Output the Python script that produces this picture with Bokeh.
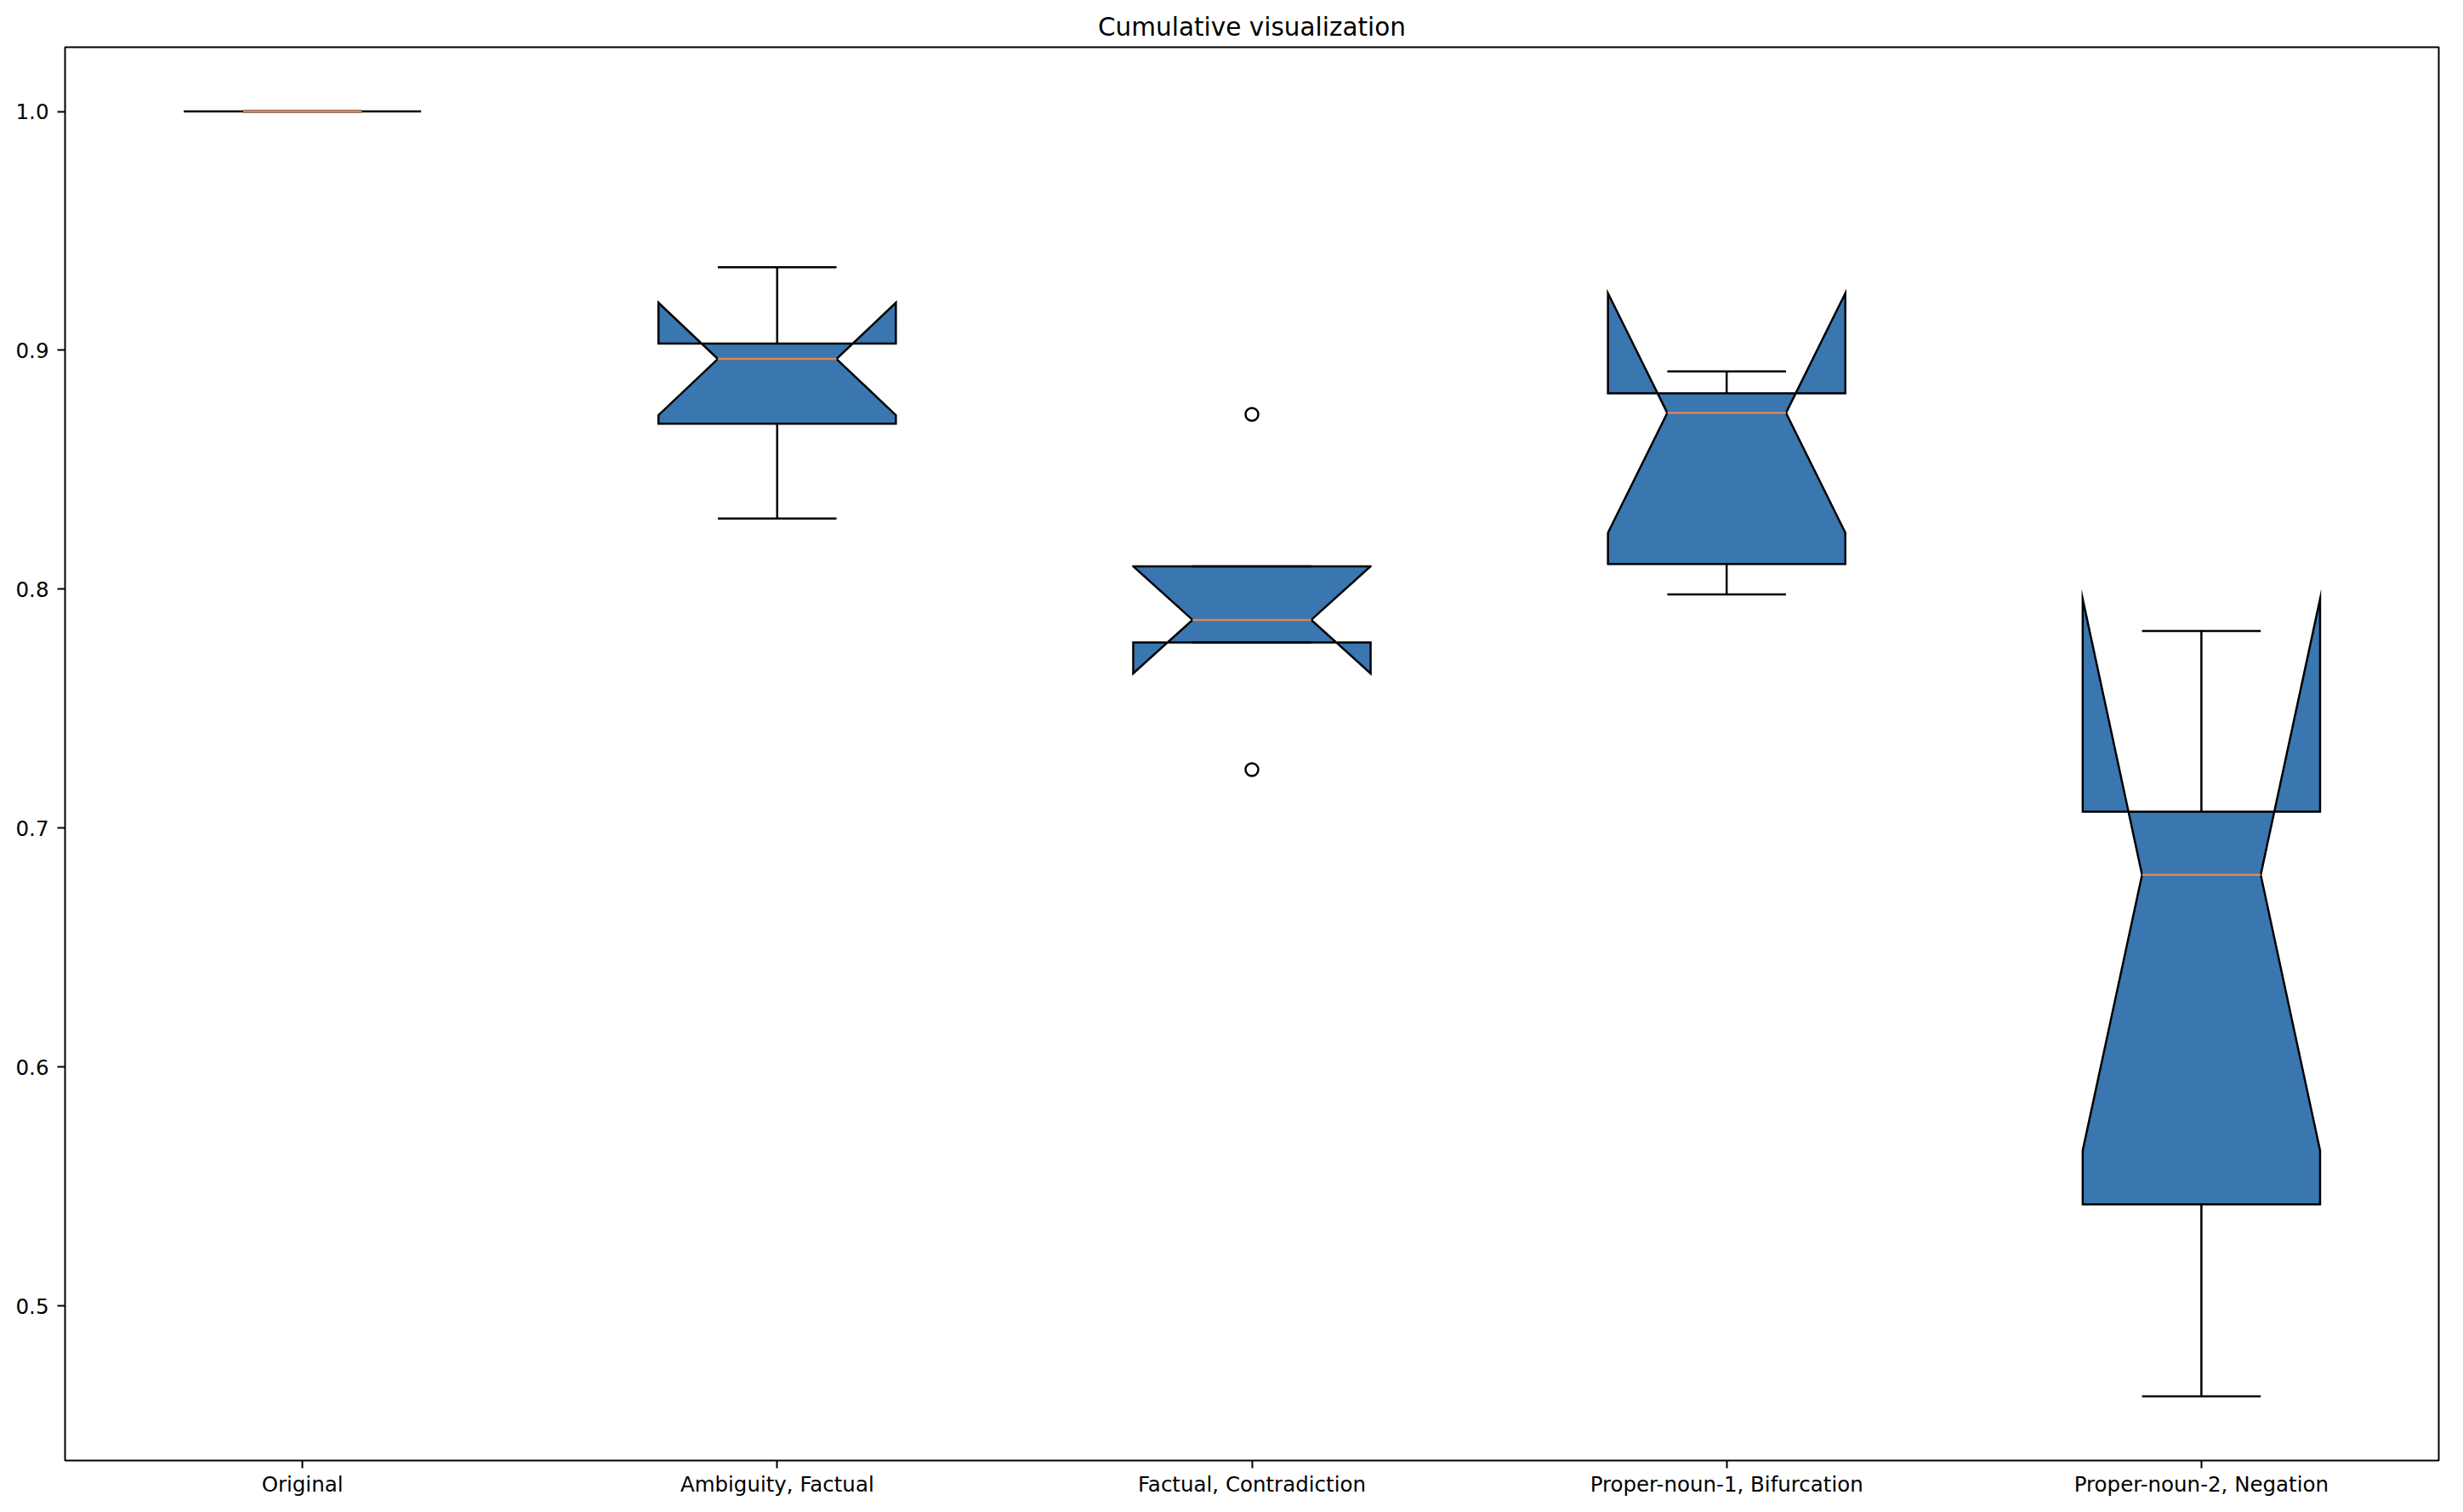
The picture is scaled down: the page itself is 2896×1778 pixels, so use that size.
import numpy as np
from bokeh.plotting import figure
from bokeh.models import ColumnDataSource, FixedTicker, PrintfTickFormatter, Range1d
from bokeh.embed import file_html
from bokeh.resources import INLINE

# ---- data ----
categories = ["Original", "Ambiguity, Factual", "Factual, Contradiction",
              "Proper-noun-1, Bifurcation", "Proper-noun-2, Negation"]
original = [1.0, 1.0, 1.0, 1.0, 1.0]
ambiguity_factual = [0.8296, 0.8693, 0.8964, 0.9028, 0.9348]
factual_contradiction = [0.7245, 0.7777, 0.7872, 0.8096, 0.8732]
proper_noun_1_bifurcation = [0.7978, 0.8106, 0.8738, 0.8820, 0.8912]
proper_noun_2_negation = [0.4622, 0.5425, 0.6805, 0.7069, 0.7825]
y_ticks = [0.5, 0.6, 0.7, 0.8, 0.9, 1.0]
title_text = "Cumulative visualization"

series = [original, ambiguity_factual, factual_contradiction,
          proper_noun_1_bifurcation, proper_noun_2_negation]

BOX_FILL = "#3a76af"
MEDIAN_COLOR = "#dd8452"
LW = 2.5
FONT = "DejaVu Sans"

box_xs, box_ys = [], []
wx0, wy0, wx1, wy1 = [], [], [], []
cx0, cy0, cx1, cy1 = [], [], [], []
mx0, my0, mx1, my1 = [], [], [], []
fx, fy = [], []

half = 0.25      # half of box width (0.5)
inner = 0.125    # notch inner / cap half-width

all_vals = []
for i, data in enumerate(series):
    pos = i + 1
    d = np.asarray(data, dtype=float)
    all_vals.extend(d.tolist())
    q1, med, q3 = np.percentile(d, [25, 50, 75])
    iqr = q3 - q1
    n = len(d)
    nlo = med - 1.57 * iqr / np.sqrt(n)
    nhi = med + 1.57 * iqr / np.sqrt(n)
    hi_lim = q3 + 1.5 * iqr
    lo_lim = q1 - 1.5 * iqr
    whi = max(d[d <= hi_lim].max(), q3)
    wlo = min(d[d >= lo_lim].min(), q1)
    L, R = pos - half, pos + half
    cL, cR = pos - inner, pos + inner
    box_xs.append([L, R, R, cR, R, R, L, L, cL, L, L])
    box_ys.append([q1, q1, nlo, med, nhi, q3, q3, nhi, med, nlo, q1])
    wx0 += [pos, pos]; wx1 += [pos, pos]
    wy0 += [q1, q3]; wy1 += [wlo, whi]
    cx0 += [cL, cL]; cx1 += [cR, cR]
    cy0 += [wlo, whi]; cy1 += [wlo, whi]
    mx0.append(cL); mx1.append(cR); my0.append(med); my1.append(med)
    for v in d:
        if v < wlo or v > whi:
            fx.append(pos); fy.append(v)

vmin, vmax = min(all_vals), max(all_vals)
span = vmax - vmin
y0, y1 = vmin - 0.05 * span, vmax + 0.05 * span

p = figure(width=2880, height=1762, output_backend="svg", toolbar_location=None,
           x_range=Range1d(0.5, len(categories) + 0.5), y_range=Range1d(y0, y1),
           min_border_left=76, min_border_right=13, min_border_top=55, min_border_bottom=44,
           title=title_text)

p.background_fill_color = "white"
p.border_fill_color = "white"
p.outline_line_color = "black"
p.outline_line_width = 2
p.grid.visible = False

p.title.align = "center"
p.title.text_font = FONT
p.title.text_font_size = "29.5px"
p.title.text_font_style = "normal"
p.title.text_color = "black"
p.title.standoff = 14

p.xaxis.ticker = FixedTicker(ticks=list(range(1, len(categories) + 1)))
p.xaxis.major_label_overrides = {i + 1: c for i, c in enumerate(categories)}
p.yaxis.ticker = FixedTicker(ticks=y_ticks)
p.yaxis.formatter = PrintfTickFormatter(format="%.1f")
for ax in (p.xaxis, p.yaxis):
    ax.axis_line_color = None
    ax.major_tick_line_color = "black"
    ax.major_tick_line_width = 2
    ax.major_tick_out = 9
    ax.major_tick_in = 0
    ax.minor_tick_line_color = None
    ax.major_label_text_font = FONT
    ax.major_label_text_font_size = "24.5px"
    ax.major_label_text_color = "black"
p.xaxis.major_label_standoff = 4
p.yaxis.major_label_standoff = 10

p.patches(xs="xs", ys="ys", source=ColumnDataSource(dict(xs=box_xs, ys=box_ys)),
          fill_color=BOX_FILL, line_color="black", line_width=LW, line_join="miter")
p.segment(x0="x0", y0="y0", x1="x1", y1="y1",
          source=ColumnDataSource(dict(x0=wx0, y0=wy0, x1=wx1, y1=wy1)),
          line_color="black", line_width=LW)
p.segment(x0="x0", y0="y0", x1="x1", y1="y1",
          source=ColumnDataSource(dict(x0=cx0, y0=cy0, x1=cx1, y1=cy1)),
          line_color="black", line_width=LW)
p.segment(x0="x0", y0="y0", x1="x1", y1="y1",
          source=ColumnDataSource(dict(x0=mx0, y0=my0, x1=mx1, y1=my1)),
          line_color=MEDIAN_COLOR, line_width=LW)
p.scatter(x="x", y="y", source=ColumnDataSource(dict(x=fx, y=fy)),
          marker="circle", size=15, fill_color=None, line_color="black", line_width=2.5)

open("out.html", "w").write(file_html(p, INLINE))
